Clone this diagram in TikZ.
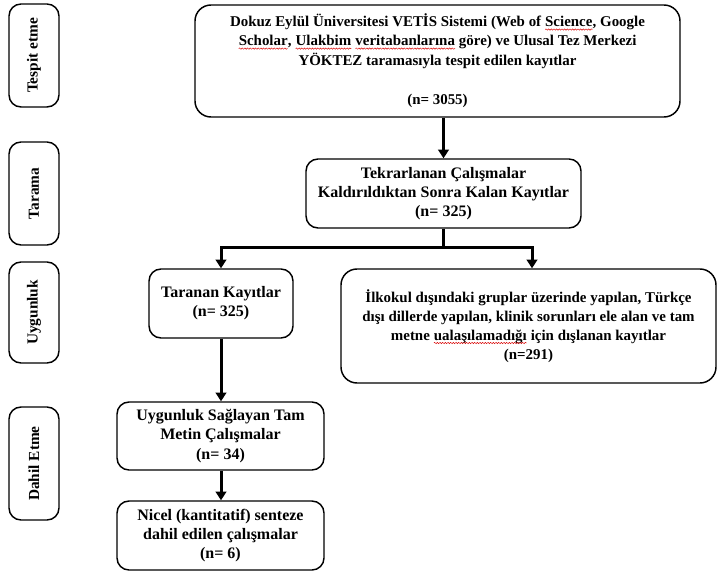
\documentclass[tikz,border=0pt]{standalone}
\usepackage{fontspec}
\setmainfont{Liberation Serif}
\usetikzlibrary{arrows.meta,decorations.pathmorphing}
\newcommand\redwave[1]{\tikz[baseline=(w.base), x=1pt, y=1pt, sharp corners]{\node[inner sep=0pt, outer sep=0pt, draw=none, minimum width=0pt, minimum height=0pt, rotate=0, align=left, anchor=base] (w) at (0,0) {#1};
  \draw[red!85!black, line width=0.35pt, decorate, decoration={snake, amplitude=0.5pt, segment length=2pt}] ([yshift=-2pt]w.base west) -- ([yshift=-2pt]w.base east);}}
\tikzset{
  box/.style={draw, line width=1.1pt, rounded corners=9pt, font=\fontsize{12}{14.3}\selectfont\bfseries, align=center, inner sep=0pt},
  bigbox/.style={box, rounded corners=12pt, font=\fontsize{11.2}{14.3}\selectfont\bfseries},
  phasebox/.style={box, rotate=90, font=\fontsize{11.5}{13}\selectfont\bfseries},
  arr/.style={line width=2.25pt, -{Triangle[width=8pt,length=6.5pt]}},
}
\begin{document}
\begin{tikzpicture}[x=0.75pt, y=-0.75pt]
\useasboundingbox (0,0) rectangle (717,577);
% phase labels
\node[phasebox, minimum width=77.25pt, minimum height=37.5pt] (p1) at (34,55.5) {Tespit etme};
\node[phasebox, minimum width=77.25pt, minimum height=37.5pt] (p2) at (34,193.5) {Tarama};
\node[phasebox, minimum width=75.75pt, minimum height=37.5pt] (p3) at (34,312.5) {Uygunluk};
\node[phasebox, minimum width=84.75pt, minimum height=37.5pt] (p4) at (34,463.5) {Dahil Etme};
% main boxes
\node[bigbox, minimum width=363.75pt, minimum height=84pt] (top) at (437.5,61)
 {Dokuz Eylül Üniversitesi VETİS Sistemi (Web of \redwave{Science}, Google\\
  \redwave{Scholar}, \redwave{Ulakbim} \redwave{veritabanlarına} göre) ve Ulusal Tez Merkezi\\
  YÖKTEZ taramasıyla tespit edilen kayıtlar\\[15.5pt]
  (n= 3055)};
\node[box, minimum width=206.25pt, minimum height=51.75pt] (second) at (443.5,193.5)
 {Tekrarlanan Çalışmalar\\Kaldırıldıktan Sonra Kalan Kayıtlar\\(n= 325)};
\node[box, minimum width=108pt, minimum height=51.75pt] (taranan) at (221,303.5)
 {Taranan Kayıtlar\\(n= 325)};
\node[bigbox, minimum width=281.25pt, minimum height=85.5pt] (excl) at (528.5,326)
 {İlkokul dışındaki gruplar üzerinde yapılan, Türkçe\\
  dışı dillerde yapılan, klinik sorunları ele alan ve tam\\
  metne \redwave{ualaşılamadığı} için dışlanan kayıtlar\\(n=291)};
\node[box, minimum width=155.25pt, minimum height=51pt] (uyg) at (220.5,436)
 {Uygunluk Sağlayan Tam\\Metin Çalışmalar\\(n= 34)};
\node[box, minimum width=155.25pt, minimum height=51.75pt] (nicel) at (220.5,535.5)
 {Nicel (kantitatif) senteze\\dahil edilen çalışmalar\\(n= 6)};
% connectors
\coordinate (br) at (443.5,248);
\coordinate (tl) at (221,248);
\coordinate (tr) at (532,248);
\draw[arr] (second.north |- top.south) -- (second.north);
\draw[line width=2.25pt] (second.south) -- (br);
\draw[arr] (br) -- (tl) -- (taranan.north -| tl);
\draw[arr] (br) -- (tr) -- (excl.north -| tr);
\draw[arr] (taranan.south) -- (taranan.south |- uyg.north);
\draw[arr] (uyg.south -| taranan.south) -- (nicel.north -| taranan.south);
\end{tikzpicture}
\end{document}
